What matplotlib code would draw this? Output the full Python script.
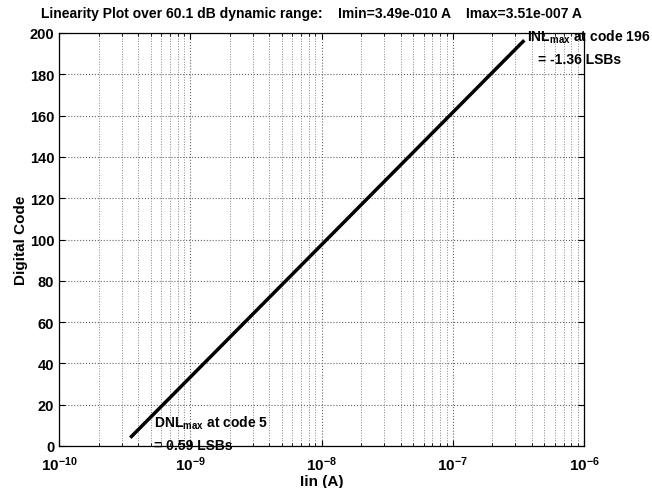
import matplotlib
matplotlib.use("Agg")
import matplotlib.pyplot as plt
from matplotlib.ticker import LogLocator, NullFormatter, FuncFormatter
import numpy as np

plt.rcParams['font.family'] = ['Liberation Sans', 'DejaVu Sans']
plt.rcParams['font.weight'] = 'bold'
plt.rcParams['mathtext.fontset'] = 'custom'
plt.rcParams['mathtext.rm'] = 'Liberation Sans:bold'
plt.rcParams['mathtext.bf'] = 'Liberation Sans:bold'
plt.rcParams['mathtext.it'] = 'Liberation Sans:bold'
plt.rcParams['mathtext.sf'] = 'Liberation Sans:bold'

current = [3.49e-10, 3.51e-7]
codes = [4, 196.5]
title = "Linearity Plot over 60.1 dB dynamic range:    Imin=3.49e-010 A    Imax=3.51e-007 A"

fig = plt.figure(figsize=(6.52, 4.89), dpi=100)
ax = fig.add_axes([59/652, 1-447/489, (584-59)/652, (447-34)/489])
ax.semilogx(current, codes, color='black', lw=2.5, solid_capstyle='butt')
ax.set_xlim(1e-10, 1e-6)
ax.set_ylim(0, 200)
ax.set_yticks(range(0, 201, 20))
ax.xaxis.set_major_locator(LogLocator(base=10, numticks=10))
ax.xaxis.set_major_formatter(FuncFormatter(lambda v, p: r'$\mathrm{10^{%d}}$' % int(round(np.log10(v)))))
ax.xaxis.set_minor_locator(LogLocator(base=10, subs=range(2, 10), numticks=10))
ax.xaxis.set_minor_formatter(NullFormatter())
ax.grid(True, which='major', ls=':', color='#666666', lw=0.8)
ax.grid(True, which='minor', axis='x', ls=':', color='#888888', lw=0.7)
ax.tick_params(which='both', direction='in', top=True, right=True, labelsize=10.5)
ax.tick_params(axis='x', which='major', labelsize=11, pad=6)
ax.tick_params(which='major', length=4)
ax.tick_params(which='minor', length=2)
for s in ax.spines.values():
    s.set_linewidth(0.9)
ax.set_xlabel('Iin (A)', fontsize=11, fontweight='bold', labelpad=1)
ax.set_ylabel('Digital Code', fontsize=11, fontweight='bold', labelpad=1)
fig.text(311/652, 1-14/489, title, ha='center', va='center', fontsize=10, fontweight='bold')

ax.text(5.3e-10, 11.5, r'DNL$_{\mathrm{max}}$ at code 5', fontsize=10, fontweight='bold', va='center')
ax.text(5.3e-10, 0.5, '= 0.59 LSBs', fontsize=10, fontweight='bold', va='center')
ax.text(3.65e-7, 198.5, r'INL$_{\mathrm{max}}$ at code 196', fontsize=10, fontweight='bold', va='center', clip_on=False)
ax.text(4.5e-7, 187.5, '= -1.36 LSBs', fontsize=10, fontweight='bold', va='center')

fig.savefig('out.png', dpi=100)
